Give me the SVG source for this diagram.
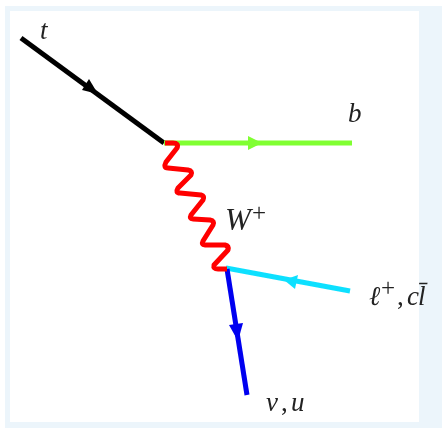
<svg xmlns="http://www.w3.org/2000/svg" width="442" height="428" viewBox="0 0 442 428">
<defs><filter id="soft" x="-5%" y="-5%" width="110%" height="110%"><feGaussianBlur stdDeviation="0.45"/></filter></defs>
<style>
.l{fill:none;stroke-width:5;stroke-linecap:butt}
.t{font-family:"Liberation Serif","DejaVu Serif",serif;font-style:italic;fill:#222;font-size:27px}
.n{font-style:normal}
.s{font-size:25px;font-style:normal}
.w{font-size:31px}
</style>
<rect width="442" height="428" fill="#fff"/>
<rect x="5" y="6" width="437" height="422" fill="#ecf5fb"/>
<rect x="10" y="11" width="409" height="411" fill="#fff"/>
<g filter="url(#soft)">
<g id="connectors">
<g id="top-quark"><path class="l" stroke="#000" d="M21 38L164 143"/><path d="M89 79L98 94L82 90Z" fill="#000"/></g>
<g id="bottom-quark"><path class="l" stroke="#80ff30" d="M164 143H352"/><path d="M248 136L262 143L248 150Z" fill="#80ff30"/></g>
<g id="lepton"><path class="l" stroke="#10e0ff" d="M226 268L350 291"/><path d="M284 280L298 275L295 289Z" fill="#10e0ff"/></g>
<g id="neutrino"><path class="l" stroke="#0000f0" d="M227 269L247 395"/><path d="M229 325L243 323L238 341Z" fill="#0000f0"/></g>
<path id="w-boson" fill="none" stroke="#ff0000" stroke-width="5" stroke-linejoin="round" d="M165 143H173Q179 143 177 148L166 162Q163 168 168 168L188 170Q193 171 191 175L178 188Q175 193 180 193L201 195Q205 196 203 200L191 215Q189 219 193 219L210 220Q215 221 213 225L203 241Q201 245 205 245L225 245Q229 246 228 250L214 265Q213 269 218 269L227 269"/>
</g>
<g id="label-t"><text class="t" x="40" y="39">t</text></g>
<g id="label-b"><text class="t" x="348" y="122">b</text></g>
<g id="label-w"><text class="t w" x="225" y="230">W<tspan class="s" x="252" dy="-9">+</tspan></text></g>
<g id="label-l"><text class="t" x="369" y="305">ℓ<tspan class="s" x="381" dy="-9">+</tspan><tspan class="n" x="397" dy="9">,</tspan><tspan x="407">c</tspan><tspan x="418">l̄</tspan></text></g>
<g id="label-v"><text class="t" x="266" y="411">ν<tspan class="n" x="281">,</tspan><tspan x="291">u</tspan></text></g>
</g>
</svg>
